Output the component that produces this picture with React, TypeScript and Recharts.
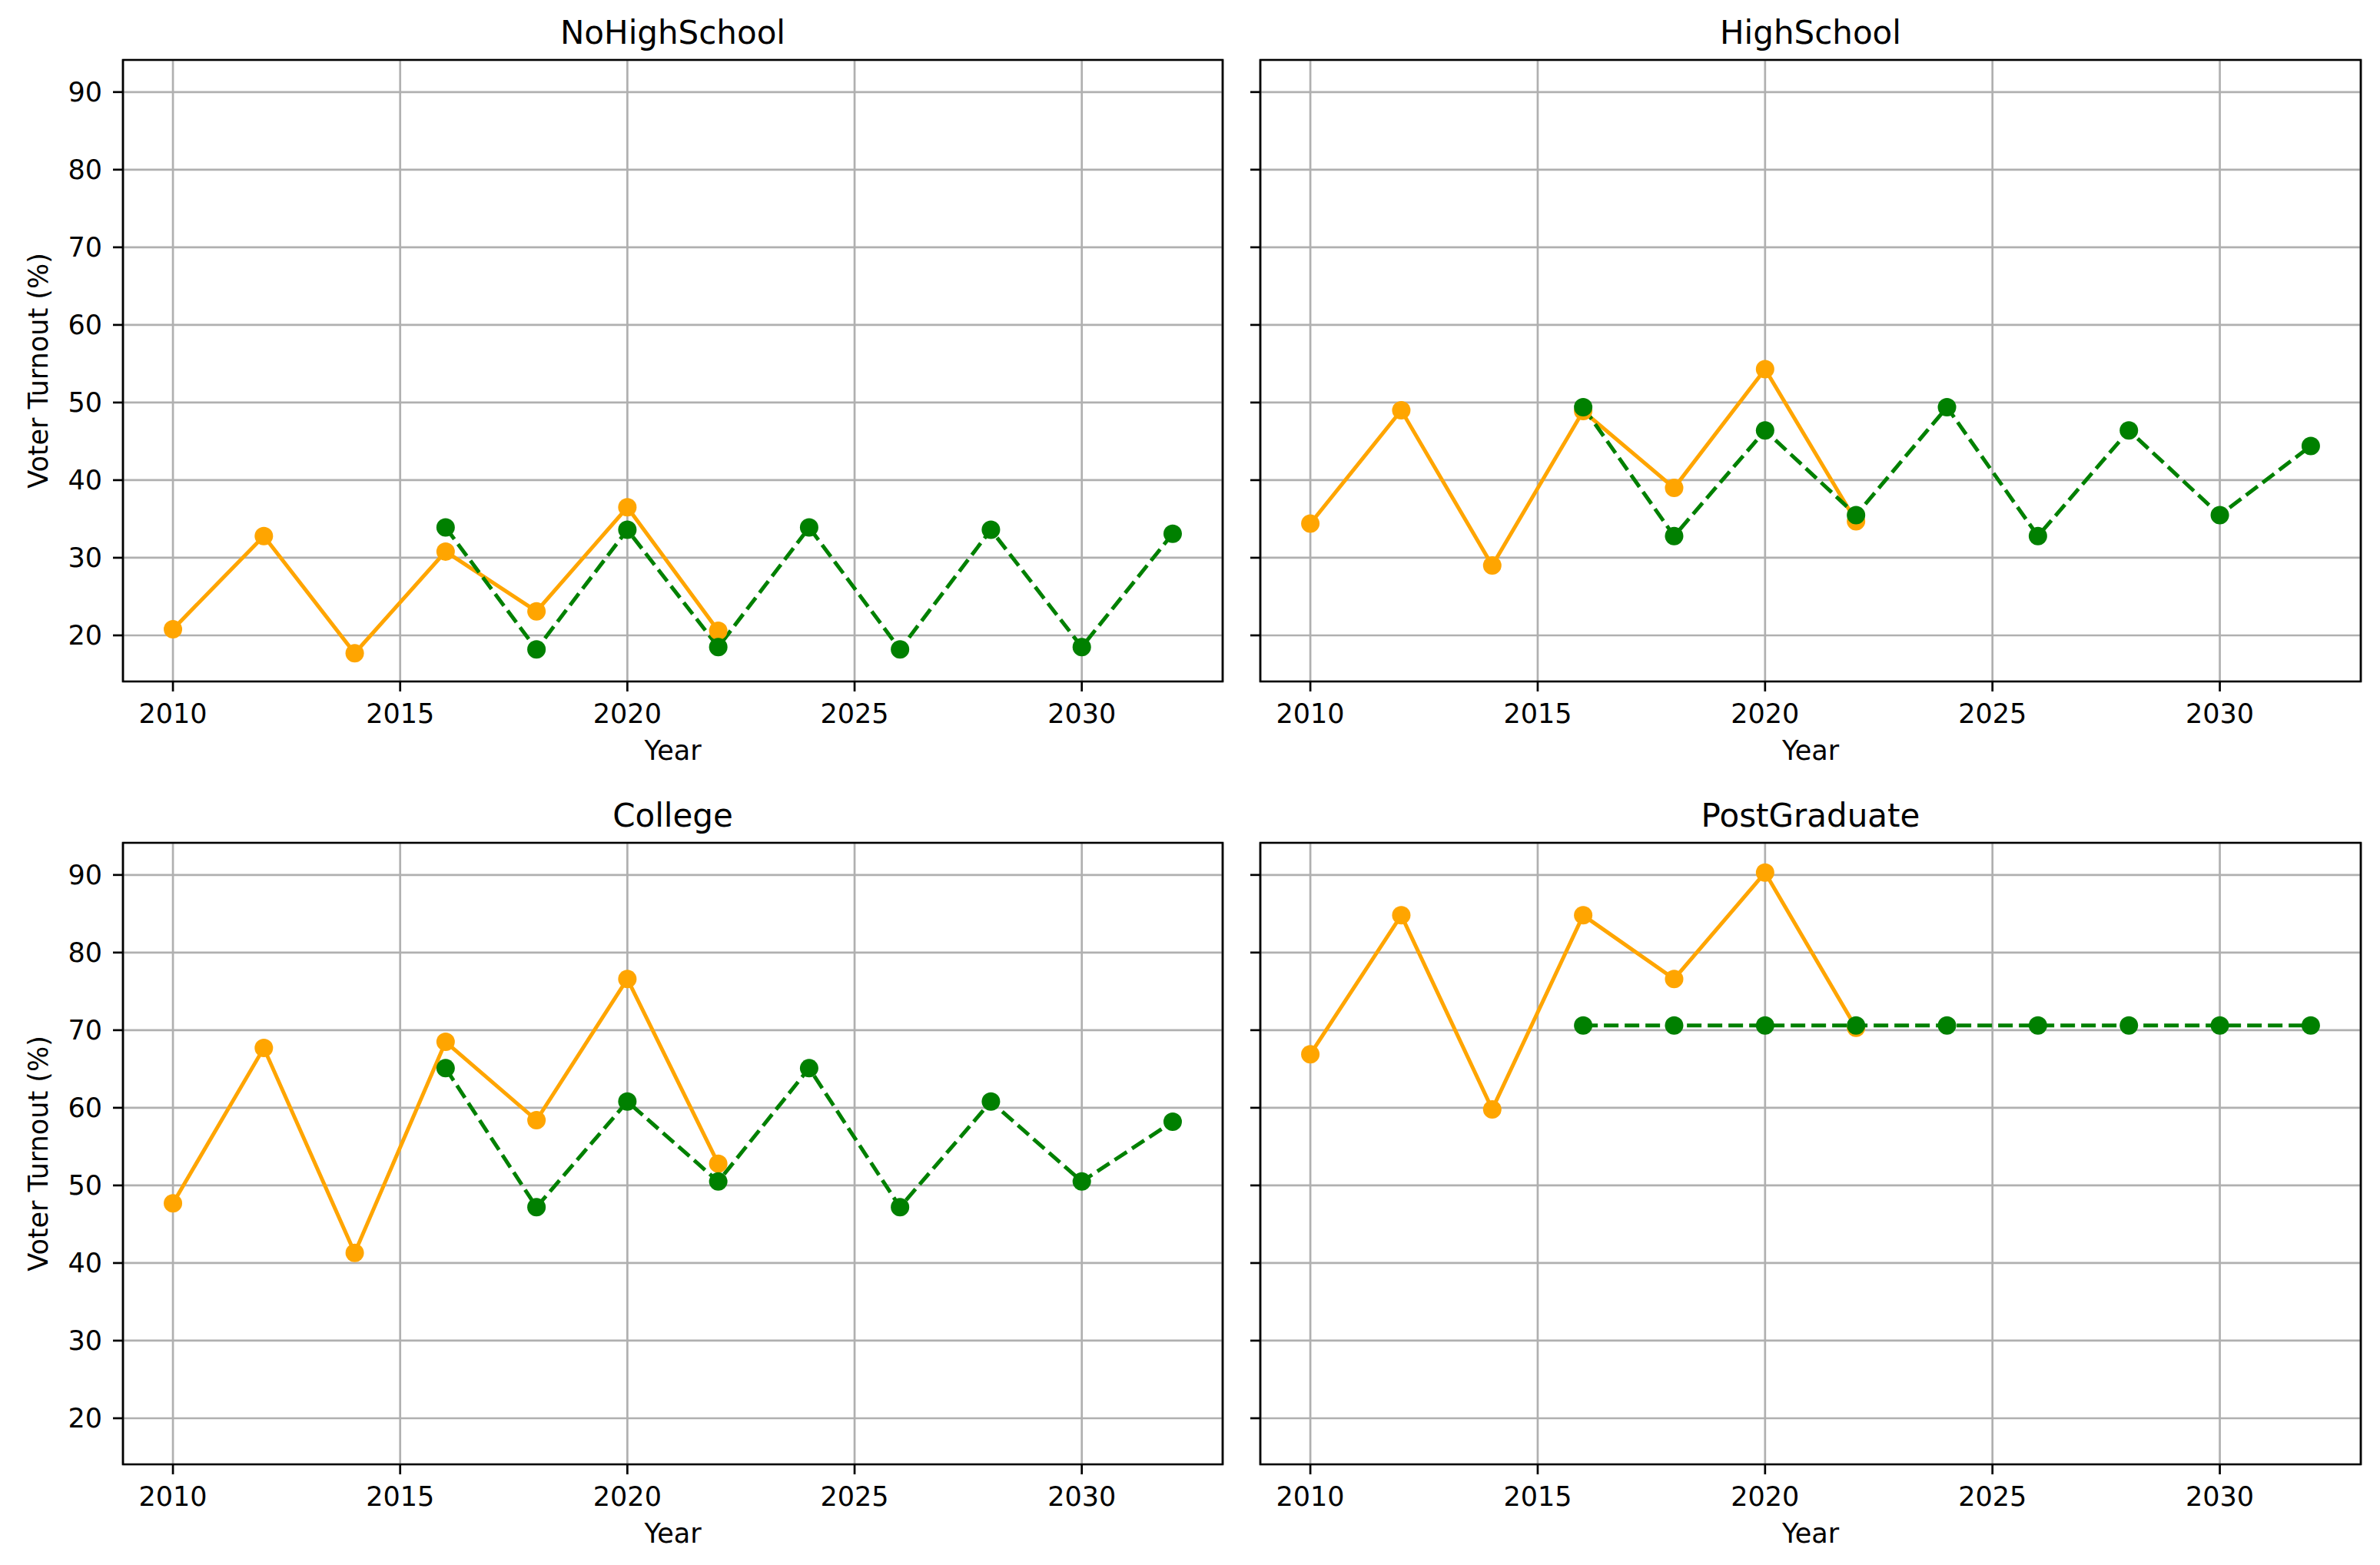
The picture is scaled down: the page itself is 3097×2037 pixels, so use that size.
import {
  LineChart,
  Line,
  XAxis,
  YAxis,
  CartesianGrid,
  ReferenceArea,
} from "recharts"

const categories = ["NoHighSchool", "HighSchool", "College", "PostGraduate"]

const allYears = [2010, 2012, 2014, 2016, 2018, 2020, 2022, 2024, 2026, 2028, 2030, 2032]
const actualYears = [2010, 2012, 2014, 2016, 2018, 2020, 2022]
const projectedYears = [2016, 2018, 2020, 2022, 2024, 2026, 2028, 2030, 2032]

const actualNoHighSchool = [20.8, 32.8, 17.7, 30.8, 23.1, 36.5, 20.6]
const projectedNoHighSchool = [33.9, 18.2, 33.6, 18.5, 33.9, 18.2, 33.6, 18.5, 33.1]

const actualHighSchool = [34.4, 49.0, 29.0, 48.9, 39.0, 54.3, 34.7]
const projectedHighSchool = [49.4, 32.8, 46.4, 35.5, 49.4, 32.8, 46.4, 35.5, 44.4]

const actualCollege = [47.7, 67.7, 41.3, 68.5, 58.4, 76.6, 52.8]
const projectedCollege = [65.1, 47.2, 60.8, 50.5, 65.1, 47.2, 60.8, 50.5, 58.2]

const actualPostGraduate = [66.9, 84.8, 59.8, 84.8, 76.6, 90.3, 70.3]
const projectedPostGraduate = [70.6, 70.6, 70.6, 70.6, 70.6, 70.6, 70.6, 70.6, 70.6]

const xTicks = [2010, 2015, 2020, 2025, 2030]
const yTicks = [20, 30, 40, 50, 60, 70, 80, 90]
const xDomain: [number, number] = [2008.9, 2033.1]
const yDomain: [number, number] = [14.06, 94.14]

const seriesActual = [actualNoHighSchool, actualHighSchool, actualCollege, actualPostGraduate]
const seriesProjected = [projectedNoHighSchool, projectedHighSchool, projectedCollege, projectedPostGraduate]

const FONT = "DejaVu Sans"
const ORANGE = "#ffa500"
const GREEN = "#008000"
const LW = 2.7 // spines, grid, ticks

// plot-area boxes (left, top, right, bottom) in page pixels
const boxes = [
  { l: 160, t: 78, r: 1591, b: 887 },
  { l: 1640, t: 78, r: 3072, b: 887 },
  { l: 160, t: 1097, r: 1591, b: 1906 },
  { l: 1640, t: 1097, r: 3072, b: 1906 },
]

const Y_W = 100
const X_H = 80
const M_TOP = 20
const M_RIGHT = 20

function buildRows(i: number) {
  return allYears.map((year) => {
    const a = actualYears.indexOf(year)
    const p = projectedYears.indexOf(year)
    return {
      year,
      actual: a >= 0 ? seriesActual[i][a] : null,
      projected: p >= 0 ? seriesProjected[i][p] : null,
    }
  })
}

function Panel({ i }: { i: number }) {
  const box = boxes[i]
  const showYLabels = i % 2 === 0
  const width = box.r - box.l + Y_W + M_RIGHT
  const height = box.b - box.t + M_TOP + X_H
  return (
    <div style={{ position: "absolute", left: box.l - Y_W, top: box.t - M_TOP }}>
      <LineChart
        width={width}
        height={height}
        data={buildRows(i)}
        margin={{ top: M_TOP, right: M_RIGHT, left: 0, bottom: 0 }}
      >
        <CartesianGrid stroke="#b0b0b0" strokeWidth={LW} />
        <XAxis
          type="number"
          dataKey="year"
          domain={xDomain}
          ticks={xTicks}
          allowDataOverflow
          height={X_H}
          axisLine={false}
          tickSize={13}
          tickMargin={16}
          tickLine={{ stroke: "#000", strokeWidth: LW }}
          tick={{ fill: "#000", fontSize: 35, fontFamily: FONT }}
        />
        <YAxis
          type="number"
          domain={yDomain}
          ticks={yTicks}
          allowDataOverflow
          width={Y_W}
          axisLine={false}
          tickSize={13}
          tickMargin={14}
          tickLine={{ stroke: "#000", strokeWidth: LW }}
          tick={{ fill: "#000", fontSize: 35, fontFamily: FONT }}
          tickFormatter={(v: number) => (showYLabels ? String(v) : "")}
        />
        <Line
          dataKey="actual"
          stroke={ORANGE}
          strokeWidth={5}
          dot={{ r: 12, fill: ORANGE, stroke: ORANGE, strokeWidth: 0 }}
          activeDot={false}
          isAnimationActive={false}
        />
        <Line
          dataKey="projected"
          stroke={GREEN}
          strokeWidth={5}
          strokeDasharray="19 8"
          dot={{ r: 12, fill: GREEN, stroke: GREEN, strokeWidth: 0, strokeDasharray: "" }}
          activeDot={false}
          isAnimationActive={false}
        />
        <ReferenceArea
          x1={xDomain[0]}
          x2={xDomain[1]}
          y1={yDomain[0]}
          y2={yDomain[1]}
          fill="none"
          fillOpacity={0}
          stroke="#000"
          strokeWidth={LW}
          ifOverflow="visible"
        />
      </LineChart>
    </div>
  )
}

export default function App() {
  return (
    <div
      style={{
        position: "absolute",
        left: 0,
        top: 0,
        width: 3097,
        height: 2037,
        background: "#fff",
        overflow: "hidden",
      }}
    >
      {categories.map((c, i) => (
        <Panel key={c} i={i} />
      ))}

      {/* titles and axis labels */}
      <svg
        width={3097}
        height={2037}
        style={{ position: "absolute", left: 0, top: 0, pointerEvents: "none" }}
        fontFamily={FONT}
        fill="#000"
      >
        {categories.map((c, i) => {
          const box = boxes[i]
          const cx = (box.l + box.r) / 2
          return (
            <g key={c}>
              <text x={cx} y={box.t - 21} textAnchor="middle" fontSize={42}>
                {c}
              </text>
              <text x={cx} y={box.b + 102} textAnchor="middle" fontSize={35}>
                Year
              </text>
              {i % 2 === 0 && (
                <text
                  transform={`translate(62, ${(box.t + box.b) / 2}) rotate(-90)`}
                  textAnchor="middle"
                  fontSize={35}
                >
                  Voter Turnout (%)
                </text>
              )}
            </g>
          )
        })}
      </svg>
    </div>
  )
}
